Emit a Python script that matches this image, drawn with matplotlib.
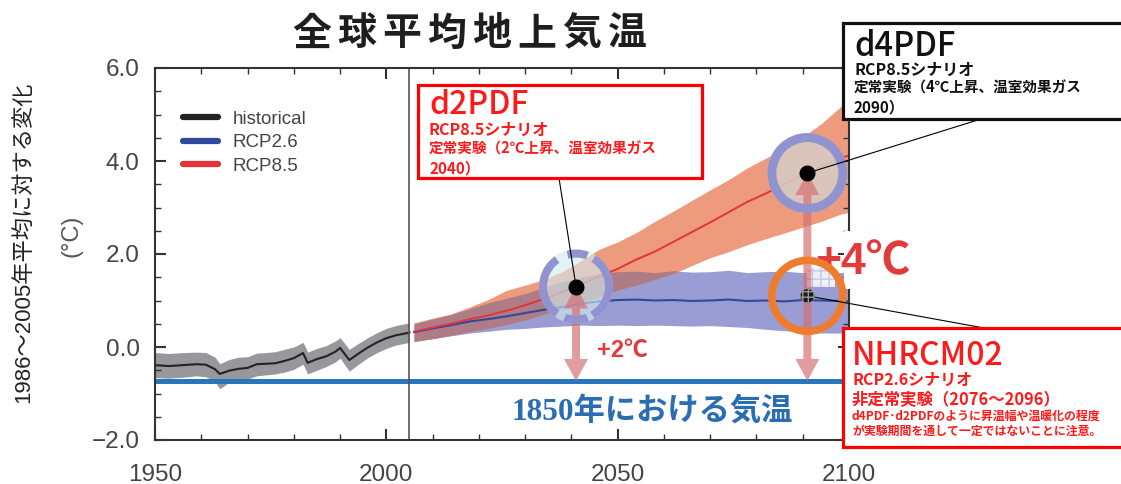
import numpy as np
import matplotlib
matplotlib.use("Agg")
import matplotlib.pyplot as plt
from matplotlib.patches import Circle, Rectangle, Polygon
from matplotlib.lines import Line2D
from matplotlib.transforms import ScaledTranslation, IdentityTransform
from matplotlib.ticker import MultipleLocator, FuncFormatter

plt.rcParams['font.family'] = ['Liberation Sans', 'Noto Sans CJK JP', 'DejaVu Sans']
plt.rcParams['lines.scale_dashes'] = False

W, H, DPI = 1121, 484, 100

# ---------------- data ----------------
hist_years = [1950, 1953, 1956, 1959, 1961, 1963, 1964, 1966, 1968, 1970, 1972, 1974, 1976,
              1978, 1980, 1982, 1983, 1985, 1987, 1989, 1990, 1992, 1994, 1996, 1998, 2000,
              2002, 2005]
hist_mean = [-0.39, -0.41, -0.39, -0.37, -0.38, -0.48, -0.58, -0.51, -0.47, -0.45, -0.37, -0.36,
             -0.35, -0.30, -0.24, -0.13, -0.34, -0.26, -0.20, -0.10, -0.02, -0.28, -0.14, -0.01,
             0.10, 0.19, 0.25, 0.31]
hist_hi = [-0.12, -0.14, -0.12, -0.11, -0.12, -0.22, -0.36, -0.27, -0.22, -0.21, -0.13, -0.12,
           -0.10, -0.05, 0.00, 0.10, -0.11, -0.03, 0.03, 0.13, 0.20, -0.05, 0.08, 0.20, 0.31,
           0.40, 0.46, 0.52]
hist_lo = [-0.66, -0.67, -0.65, -0.62, -0.64, -0.75, -0.90, -0.76, -0.71, -0.69, -0.62, -0.60,
           -0.58, -0.54, -0.48, -0.37, -0.58, -0.50, -0.42, -0.32, -0.24, -0.52, -0.37, -0.23,
           -0.12, -0.03, 0.04, 0.10]

proj_years = [2006, 2010, 2014, 2018, 2022, 2026, 2030, 2034, 2038, 2042, 2046, 2050, 2054,
              2058, 2062, 2066, 2070, 2074, 2078, 2082, 2086, 2090, 2094, 2098, 2100]
rcp85_mean = [0.33, 0.42, 0.50, 0.60, 0.68, 0.78, 0.90, 1.03, 1.18, 1.34, 1.52, 1.68, 1.88,
              2.05, 2.26, 2.47, 2.68, 2.90, 3.12, 3.30, 3.50, 3.70, 3.88, 4.06, 4.12]
rcp85_hi = [0.52, 0.62, 0.71, 0.86, 1.02, 1.22, 1.33, 1.45, 1.62, 1.85, 2.10, 2.26, 2.46,
            2.70, 2.92, 3.15, 3.38, 3.60, 3.85, 4.06, 4.28, 4.52, 4.80, 5.15, 5.35]
rcp85_lo = [0.12, 0.18, 0.25, 0.33, 0.40, 0.48, 0.58, 0.70, 0.82, 0.95, 1.08, 1.22, 1.33,
            1.45, 1.58, 1.75, 1.92, 2.05, 2.20, 2.33, 2.45, 2.58, 2.70, 2.85, 2.90]
rcp26_mean = [0.32, 0.40, 0.47, 0.55, 0.60, 0.66, 0.73, 0.80, 0.86, 0.93, 0.98, 1.01, 1.02,
              1.00, 1.01, 0.99, 1.00, 1.02, 0.99, 1.00, 0.98, 1.01, 1.00, 0.99, 0.98]
rcp26_hi = [0.50, 0.60, 0.70, 0.82, 0.95, 1.05, 1.15, 1.28, 1.40, 1.50, 1.58, 1.62, 1.63,
            1.60, 1.64, 1.61, 1.62, 1.65, 1.60, 1.62, 1.63, 1.60, 1.62, 1.60, 1.61]
rcp26_lo = [0.12, 0.18, 0.24, 0.30, 0.34, 0.38, 0.40, 0.43, 0.45, 0.47, 0.46, 0.47, 0.46,
            0.47, 0.46, 0.45, 0.46, 0.44, 0.42, 0.38, 0.35, 0.32, 0.30, 0.30, 0.30]

level_1850 = -0.73

d2pdf_pt = (2041, 1.30)
d4pdf_pt = (2091, 3.74)
nhrcm_pt = (2091, 1.10)

legend_labels = ['historical', 'RCP2.6', 'RCP8.5']
title_text = '全球平均地上気温'
ylabel_text = '1986～2005年平均に対する変化'

C_HIST = '#232323'
C_26 = '#2F4A9C'
C_85 = '#E5333A'
C_BAND26 = '#9A9DD4'
C_BAND85 = '#EE9A7C'
C_OVER = '#AE7C86'
C_RING = '#9193CF'
C_RED_TXT = '#FF1A1A'


def F(x, y):
    """pixel position (origin top-left) -> figure fraction"""
    return (x / W, 1 - y / H)


fig = plt.figure(figsize=(W / DPI, H / DPI), dpi=DPI)
ax = fig.add_axes([155 / W, 1 - 440 / H, (849 - 155) / W, (440 - 68) / H])
ax.set_xlim(1950, 2100)
ax.set_ylim(-2, 6)

# ---------------- bands & lines ----------------
ax.fill_between(hist_years, hist_lo, hist_hi, color='#98989C', lw=0, zorder=1)
ax.fill_between(proj_years, rcp26_lo, rcp26_hi, color=C_BAND26, lw=0, zorder=1)
ax.fill_between(proj_years, rcp85_lo, rcp85_hi, color=C_BAND85, lw=0, zorder=1.1)
ov_lo = np.maximum(rcp85_lo, rcp26_lo)
ov_hi = np.minimum(rcp85_hi, rcp26_hi)
ax.fill_between(proj_years, ov_lo, ov_hi, where=ov_hi > ov_lo, interpolate=True,
                color=C_OVER, lw=0, zorder=1.2)

ax.plot(hist_years, hist_mean, color=C_HIST, lw=1.5, zorder=2)
ax.plot(proj_years, rcp26_mean, color=C_26, lw=1.5, zorder=2)
ax.plot(proj_years, rcp85_mean, color=C_85, lw=1.4, zorder=2)

ax.axhline(level_1850, color='#2A76BE', lw=3.6, zorder=2.2)
ax.axvline(2005, color='#555555', lw=1.2, zorder=2.3)

# small checkered block beside the NHRCM02 mark
ax.add_patch(Rectangle((nhrcm_pt[0], 1.30), 6, 0.40, facecolor='#EEF0F8',
                       edgecolor='#C3C6E6', hatch='++', lw=0, zorder=1.5))

# ---------------- axes styling ----------------
for s in ax.spines.values():
    s.set_color('#333333')
    s.set_linewidth(1.5)
ax.xaxis.set_major_locator(MultipleLocator(50))
ax.xaxis.set_minor_locator(MultipleLocator(10))
ax.yaxis.set_major_locator(MultipleLocator(2))
ax.yaxis.set_minor_locator(MultipleLocator(0.5))
ax.yaxis.set_major_formatter(FuncFormatter(lambda v, p: f'{v:.1f}'.replace('-', '\u2212')))
ax.tick_params(which='both', direction='in', top=True, right=True, color='#333333',
               labelcolor='#444444', labelsize=17.5)
ax.tick_params(which='major', length=8, width=1.5)
ax.tick_params(which='minor', length=4.5, width=1.0)
ax.tick_params(axis='x', which='major', pad=17)
ax.tick_params(axis='y', which='major', pad=11)

# gap in the right frame behind the +4 label
ax.add_patch(Rectangle((844, H - 289), 9, 58, transform=IdentityTransform(),
                       facecolor='white', edgecolor='none', zorder=2.6, clip_on=False))

# ---------------- legend ----------------
handles = [Line2D([], [], color=c, lw=4.5, solid_capstyle='round')
           for c in (C_HIST, C_26, C_85)]
leg = ax.legend(handles, legend_labels, loc='upper left', bbox_to_anchor=(0.04, 0.885),
                frameon=False, fontsize=13.5, handlelength=1.9, handletextpad=0.75,
                labelspacing=0.33, borderpad=0, borderaxespad=0, labelcolor='#444444')

# ---------------- arrows (+2 / +4 from 1850 level) ----------------
def double_arrow(x, y0, y1, shaft=8, head_w=24, head_l=22):
    X, Y0 = ax.transData.transform((x, y0))
    _, Y1 = ax.transData.transform((x, y1))
    s, hw = shaft / 2, head_w / 2
    verts = [(X, Y0), (X + hw, Y0 + head_l), (X + s, Y0 + head_l), (X + s, Y1 - head_l),
             (X + hw, Y1 - head_l), (X, Y1), (X - hw, Y1 - head_l), (X - s, Y1 - head_l),
             (X - s, Y0 + head_l), (X - hw, Y0 + head_l)]
    ax.add_patch(Polygon(verts, closed=True, transform=IdentityTransform(),
                         facecolor='#D46E70', alpha=0.68, edgecolor='none', zorder=4))


def ring(pt, r_px, ring_px, edge, face, face_alpha, ls='solid', z=5):
    tr = fig.dpi_scale_trans + ScaledTranslation(pt[0], pt[1], ax.transData)
    if face is not None:
        ax.add_patch(Circle((0, 0), (r_px + ring_px / 2) / DPI, transform=tr,
                            facecolor=face, alpha=face_alpha, edgecolor='none',
                            zorder=3, clip_on=False))
    ax.add_patch(Circle((0, 0), r_px / DPI, transform=tr, facecolor='none',
                        edgecolor=edge, lw=ring_px * 72 / DPI, linestyle=ls,
                        zorder=z, clip_on=False))


# circles
deg = 2 * np.pi * 33 * 72 / DPI / 360.0
dash = (20 * deg, tuple(v * deg for v in (40, 10, 118, 12, 35, 20, 110, 15)))
ring(d2pdf_pt, 33, 8, C_RING, '#D3ECEF', 0.62, ls=dash)
ring(d4pdf_pt, 35.5, 9, C_RING, '#D7CCC6', 0.88)

ax.text(815 / W, 1 - 263 / H, '+4℃', transform=fig.transFigure, ha='left', va='center',
        fontsize=32, fontweight='bold', color='#E23B3B', zorder=2.7, clip_on=False)
ax.text(597 / W, 1 - 350 / H, '+2℃', transform=fig.transFigure, ha='left', va='center',
        fontsize=17, fontweight='bold', color='#E23B3B', zorder=2.7, clip_on=False)

double_arrow(d2pdf_pt[0], level_1850, d2pdf_pt[1])
double_arrow(d4pdf_pt[0], level_1850, d4pdf_pt[1])

ring(nhrcm_pt, 35.5, 7.5, '#EE7C2C', None, 0)

# dots
ax.plot([d2pdf_pt[0], d4pdf_pt[0]], [d2pdf_pt[1], d4pdf_pt[1]], 'o', ms=10.5,
        color='black', zorder=7, clip_on=False)
tr_n = fig.dpi_scale_trans + ScaledTranslation(nhrcm_pt[0], nhrcm_pt[1], ax.transData)
ax.add_patch(Circle((0, 0), 7 / DPI, transform=tr_n, facecolor='#1a1a1a', edgecolor='#9a9a9a',
                    hatch='+++', lw=0.3, zorder=7))

# ---------------- connector lines ----------------
for pt, tx in ((d2pdf_pt, (559, 178)), (d4pdf_pt, (981, 119)), (nhrcm_pt, (984, 328))):
    ax.annotate('', xy=pt, xycoords='data', xytext=(tx[0], H - tx[1]),
                textcoords='figure pixels',
                arrowprops=dict(arrowstyle='-', color='black', lw=0.8,
                                shrinkA=0, shrinkB=0), zorder=6)

# ---------------- text boxes ----------------
def box(x0, y0, x1, y1, ec):
    fig.add_artist(Rectangle(F(x0, y1), (x1 - x0) / W, (y1 - y0) / H,
                             transform=fig.transFigure, facecolor='white', edgecolor=ec,
                             lw=2.3, zorder=10))


def t(x, y, s, size, color, weight='bold', fam=None):
    fig.text(*F(x, y), s, ha='left', va='center', fontsize=size, color=color,
             fontweight=weight, zorder=11,
             family=fam or ['Noto Sans CJK JP', 'DejaVu Sans'])


HEAD_W = 500

box(418, 85, 702, 178, '#FF0000')
t(429, 105, 'd2PDF', 23, C_RED_TXT, HEAD_W)
t(429, 130, 'RCP8.5シナリオ', 11.5, C_RED_TXT)
t(429, 149, '定常実験（2℃上昇、温室効果ガス', 10.5, C_RED_TXT)
t(429, 168, '2040）', 11, C_RED_TXT)

box(843, 23, 1130, 119, '#111111')
t(854, 46, 'd4PDF', 23.5, '#111111', HEAD_W)
t(854, 70, 'RCP8.5シナリオ', 11.5, '#111111')
t(854, 88, '定常実験（4℃上昇、温室効果ガス', 10.5, '#111111')
t(854, 107, '2090）', 11, '#111111')

box(843, 328, 1130, 447, '#FF0000')
t(852, 356, 'NHRCM02', 23, C_RED_TXT, HEAD_W)
t(852, 380, 'RCP2.6シナリオ', 11.5, C_RED_TXT)
t(852, 400, '非定常実験（2076～2096）', 11.8, C_RED_TXT)
t(852, 416, 'd4PDF･d2PDFのように昇温幅や温暖化の程度', 8.6, C_RED_TXT)
t(852, 431, 'が実験期間を通して一定ではないことに注意。', 8.6, C_RED_TXT)

# ---------------- titles & labels ----------------
for i, ch in enumerate(title_text):
    fig.text(*F(312 + i * 45, 34), ch, ha='center', va='center', fontsize=28,
             fontweight='bold', color='#1E1E1E', family=['Noto Sans CJK JP'])

fig.text(*F(512, 413), '1850年における気温', ha='left', va='center', fontsize=22.5,
         fontweight='bold', color='#2B6DB2', family=['Liberation Serif', 'Noto Sans CJK JP'])

fig.text(*F(24, 242), ylabel_text, rotation=90, ha='center', va='center', fontsize=16,
         color='#222222')
fig.text(*F(72, 236), '(°C)', rotation=90, ha='center', va='center', fontsize=17,
         color='#555555')

fig.savefig('out.png', dpi=DPI, facecolor='white')
